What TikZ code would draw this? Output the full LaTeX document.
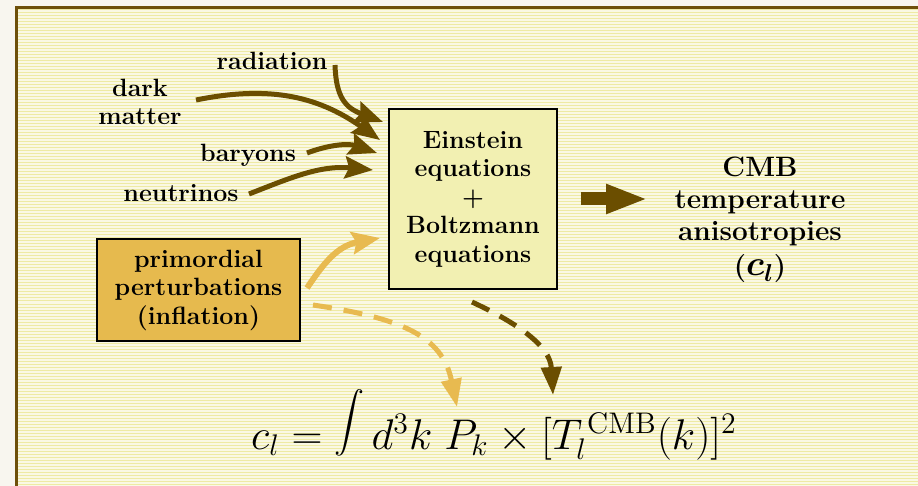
\documentclass[tikz,border=0pt]{standalone}
\usetikzlibrary{arrows.meta}
\definecolor{bgout}{HTML}{F8F6EF}
\definecolor{bgin}{HTML}{FAF8E4}
\definecolor{stripe}{HTML}{EEEAA4}
\definecolor{framec}{HTML}{6E500A}
\definecolor{brownarr}{HTML}{6B4E00}
\definecolor{orangearr}{HTML}{E8BA50}
\definecolor{eqfill}{HTML}{F2F0B2}
\definecolor{primfill}{HTML}{E6BA4E}
\begin{document}
\begin{tikzpicture}[x=1pt,y=-1pt,
  lbl/.style={font=\fontsize{25}{28.5}\selectfont\bfseries, align=center, inner sep=0pt},
  bigtxt/.style={font=\fontsize{28}{32}\selectfont\bfseries, align=center, inner sep=0pt},
  boxed/.style={draw=black, line width=2pt, align=center, inner sep=0pt,
    font=\fontsize{25}{28.5}\selectfont\bfseries},
  brownline/.style={draw=brownarr, line width=5pt,
    -{Stealth[length=28pt,width=22pt,inset=4pt]}},
  orangeline/.style={draw=orangearr, line width=6pt,
    -{Stealth[length=28pt,width=22pt,inset=4pt]}},
  dashline/.style={line width=5pt, dash pattern=on 19pt off 12pt,
    -{Triangle[length=28pt,width=20pt]}}
]
\useasboundingbox (0,0) rectangle (918,486);
\fill[bgout] (0,0) rectangle (918,486);
\fill[bgin] (16,8) rectangle (918,486);
\foreach \y in {10,13,...,486} \draw[stripe, line width=1pt] (17,\y) -- (918,\y);
\draw[framec, line width=3pt] (16,487) -- (16,8) -- (919,8);

% boxes
\node[boxed, fill=eqfill, minimum width=168pt, minimum height=180pt] (eq) at (473,199)
  {Einstein\\equations\\+\\Boltzmann\\equations};
\node[boxed, fill=primfill, minimum width=203pt, minimum height=102pt] (prim) at (198.5,290)
  {primordial\\perturbations\\(inflation)};

% labels
\node[lbl, anchor=base] (rad) at (272,70) {radiation};
\node[lbl, anchor=base] (dark) at (140,97) {dark};
\node[lbl, anchor=base] (matter) at (140,125) {matter};
\node[lbl, anchor=base] (bar) at (248,162) {baryons};
\node[lbl, anchor=base] (neu) at (181,202) {neutrinos};

\node[bigtxt] (cmb) at (760,220)
  {CMB\\temperature\\anisotropies\\[3pt]({\fontsize{20.74}{24}\selectfont\scalebox{1.7}{\boldmath$c_l$}})};

\node[anchor=base, inner sep=0pt, font=\fontsize{20.74}{24}\selectfont] (formula) at (494,449)
  {\scalebox{2.07}{$c_l = \raisebox{5pt}{\scalebox{1.45}{$\displaystyle\int$}}\, d^3k\; P_k \times [T_l^{\,\mathrm{CMB}}(k)]^2$}};

% arrow end points
\coordinate (radS) at (335,65);   \coordinate (radE) at (383,122);
\coordinate (dmS) at (196,100);   \coordinate (dmE) at (380,140);
\coordinate (barS) at (307,153);  \coordinate (barE) at (377,153);
\coordinate (neuS) at (249,194);  \coordinate (neuE) at (373,170);
\coordinate (primS) at (307,288); \coordinate (primE) at (380,238);
\coordinate (pdS) at (313,305);   \coordinate (pdE) at (457,407);
\coordinate (edS) at (472,302);   \coordinate (edE) at (553,395);
\coordinate (cmbIn) at (648,199);

\draw[brownline] (radS) .. controls (336,98) and (346,108) .. (radE);
\draw[brownline] (dmS) .. controls (265,86) and (315,94) .. (dmE);
\draw[brownline] (barS) .. controls (328,145) and (348,143) .. (barE);
\draw[brownline] (neuS) .. controls (290,178) and (320,165) .. (neuE);
\draw[orangeline] (primS) .. controls (322,266) and (336,246) .. (primE);
\draw[dashline, draw=orangearr] (pdS) .. controls (400,318) and (442,335) .. (pdE);
\draw[dashline, draw=brownarr] (edS) .. controls (515,322) and (550,345) .. (edE);

% big arrow
\draw[draw=brownarr, line width=13pt, -{Triangle[length=42pt,width=27pt]},
  shorten <=23pt] (eq.east |- cmbIn) -- (cmbIn);
\end{tikzpicture}
\end{document}
